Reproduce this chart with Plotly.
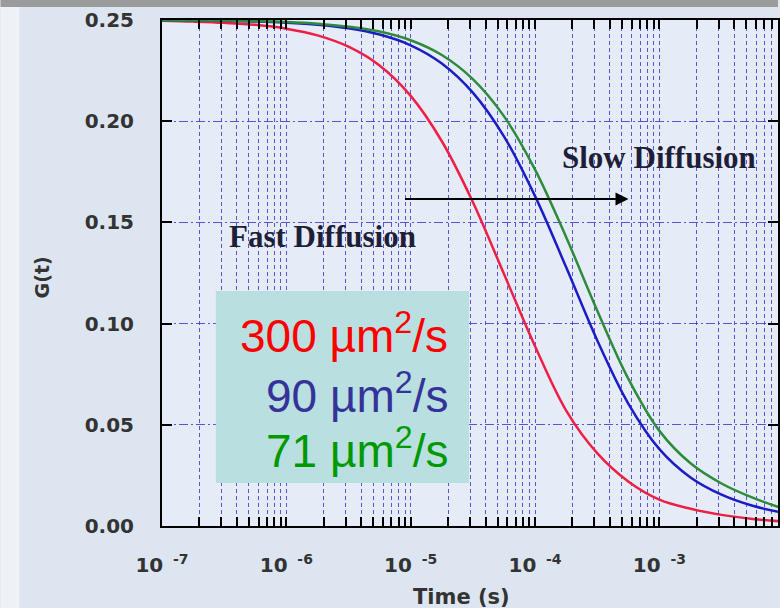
import plotly.graph_objects as go

# ---- data ----
time_s = [1.00e-7, 1.78e-7, 3.16e-7, 5.62e-7, 1.00e-6, 1.78e-6, 3.16e-6, 5.62e-6,
          1.00e-5, 1.78e-5, 3.16e-5, 5.62e-5, 1.00e-4, 1.78e-4, 3.16e-4, 5.62e-4,
          1.00e-3, 1.78e-3, 3.16e-3, 5.62e-3, 1.00e-2]
g_300 = [0.2496, 0.2492, 0.2486, 0.2476, 0.2457, 0.2424, 0.2368, 0.2275,
         0.2125, 0.1901, 0.1601, 0.1246, 0.0888, 0.0570, 0.0360, 0.0220,
         0.0130, 0.0085, 0.0055, 0.0035, 0.0022]
g_90 = [0.2499, 0.2498, 0.2496, 0.2493, 0.2487, 0.2477, 0.2459, 0.2428,
        0.2375, 0.2285, 0.2141, 0.1925, 0.1630, 0.1278, 0.0918, 0.0605,
        0.0380, 0.0240, 0.0155, 0.0100, 0.0065]
g_71 = [0.2499, 0.2498, 0.2497, 0.2494, 0.2490, 0.2482, 0.2467, 0.2443,
        0.2400, 0.2327, 0.2208, 0.2025, 0.1761, 0.1427, 0.1065, 0.0728,
        0.0470, 0.0310, 0.0210, 0.0140, 0.0085]
series_labels = ["300 µm<sup>2</sup>/s", "90 µm<sup>2</sup>/s", "71 µm<sup>2</sup>/s"]
decades = [-7, -6, -5, -4, -3]
y_ticks = [0.00, 0.05, 0.10, 0.15, 0.20, 0.25]

# ---- styling ----
colors = ["#ee1f45", "#1c1cc4", "#2e8b3c"]
text_colors = ["#ff0000", "#333399", "#009900"]
L, R, T, B = 162, 0, 20, 82
W, H = 780, 608
pw, ph = W - L - R, H - T - B

def px(xp):
    return (xp - L) / pw

def py(yp):
    return (H - B - yp) / ph

fig = go.Figure()
for g, c in zip([g_300, g_90, g_71], colors):
    fig.add_trace(go.Scatter(x=time_s, y=g, mode="lines",
                             line=dict(color=c, width=2.5, shape="spline"),
                             showlegend=False, hoverinfo="skip"))

tickvals, ticktext = [], []
for d in decades:
    for m in range(1, 10):
        tickvals.append(m * 10.0 ** d)
        ticktext.append(f"10<sup>\u00a0\u00a0{d}</sup>" if m == 1 else "")

grid_col = "rgba(60,60,205,0.85)"
axis_font = dict(family="DejaVu Sans", size=20, color="#333333", weight="bold")

fig.update_xaxes(type="log", range=[-7, -7 + pw / 124.75],
                 tickmode="array", tickvals=tickvals, ticktext=ticktext,
                 ticks="inside", ticklen=9, tickwidth=2, tickcolor="black",
                 showline=True, linecolor="black", linewidth=2, mirror="ticks",
                 showgrid=True, gridcolor=grid_col, gridwidth=1.3, griddash="4px,3px",
                 tickfont=axis_font, ticklabelstandoff=20, zeroline=False)
fig.update_yaxes(range=[0, 0.25], tickmode="array", tickvals=y_ticks,
                 ticktext=[f"{v:.2f}" for v in y_ticks],
                 ticks="inside", ticklen=10, tickwidth=2, tickcolor="black",
                 showline=True, linecolor="black", linewidth=2, mirror="ticks",
                 showgrid=True, gridcolor=grid_col, gridwidth=1.3,
                 griddash="9px,3px,2px,3px",
                 tickfont=axis_font, ticklabelstandoff=22, zeroline=False)

shapes = [
    # top grey bar
    dict(type="rect", xref="paper", yref="paper", x0=px(0), x1=px(W),
         y0=py(7), y1=py(0), fillcolor="#9b9b9b", line=dict(width=0), layer="above"),
    # light strip at left
    dict(type="rect", xref="paper", yref="paper", x0=px(0), x1=px(19),
         y0=py(H), y1=py(7), fillcolor="#eef2f7", line=dict(width=0), layer="below"),
    # text box
    dict(type="rect", xref="paper", yref="paper", x0=px(216), x1=px(470),
         y0=py(483), y1=py(291), fillcolor="#b9dfe0", line=dict(width=0), layer="above"),
]

annotations = [
    dict(text="G(t)", xref="paper", yref="paper", x=px(42), y=py(277),
         showarrow=False, textangle=-90, xanchor="center", yanchor="middle",
         font=dict(family="DejaVu Sans", size=19, color="#333333", weight="bold")),
    dict(text="Time (s)", xref="paper", yref="paper", x=px(462), y=py(597),
         showarrow=False, xanchor="center", yanchor="middle",
         font=dict(family="DejaVu Sans", size=21, color="#333333", weight="bold")),
    dict(text="Fast Diffusion", xref="paper", yref="paper", x=px(323), y=py(237),
         showarrow=False, xanchor="center", yanchor="middle",
         font=dict(family="Liberation Serif", size=31, color="#1e1e38", weight="bold")),
    dict(text="Slow Diffusion", xref="paper", yref="paper", x=px(661), y=py(157),
         showarrow=False, xanchor="center", yanchor="middle",
         font=dict(family="Liberation Serif", size=31, color="#1e1e38", weight="bold")),
    dict(text="", xref="paper", yref="paper", x=px(630), y=py(199),
         axref="pixel", ayref="pixel", ax=-225, ay=0, showarrow=True,
         arrowhead=2, arrowsize=1.3, arrowwidth=2, arrowcolor="black"),
]
for lab, tc, yc in zip(series_labels, text_colors, [333, 393, 448]):
    annotations.append(dict(text=lab, xref="paper", yref="paper", x=px(451), y=py(yc),
                            showarrow=False, xanchor="right", yanchor="middle",
                            font=dict(family="Liberation Sans", size=46, color=tc)))

fig.update_layout(width=W, height=H, margin=dict(l=L, r=R, t=T, b=B, pad=0),
                  paper_bgcolor="#dde6f0", plot_bgcolor="#e6ecf7",
                  shapes=shapes, annotations=annotations, showlegend=False)

fig.write_html("out.html")
